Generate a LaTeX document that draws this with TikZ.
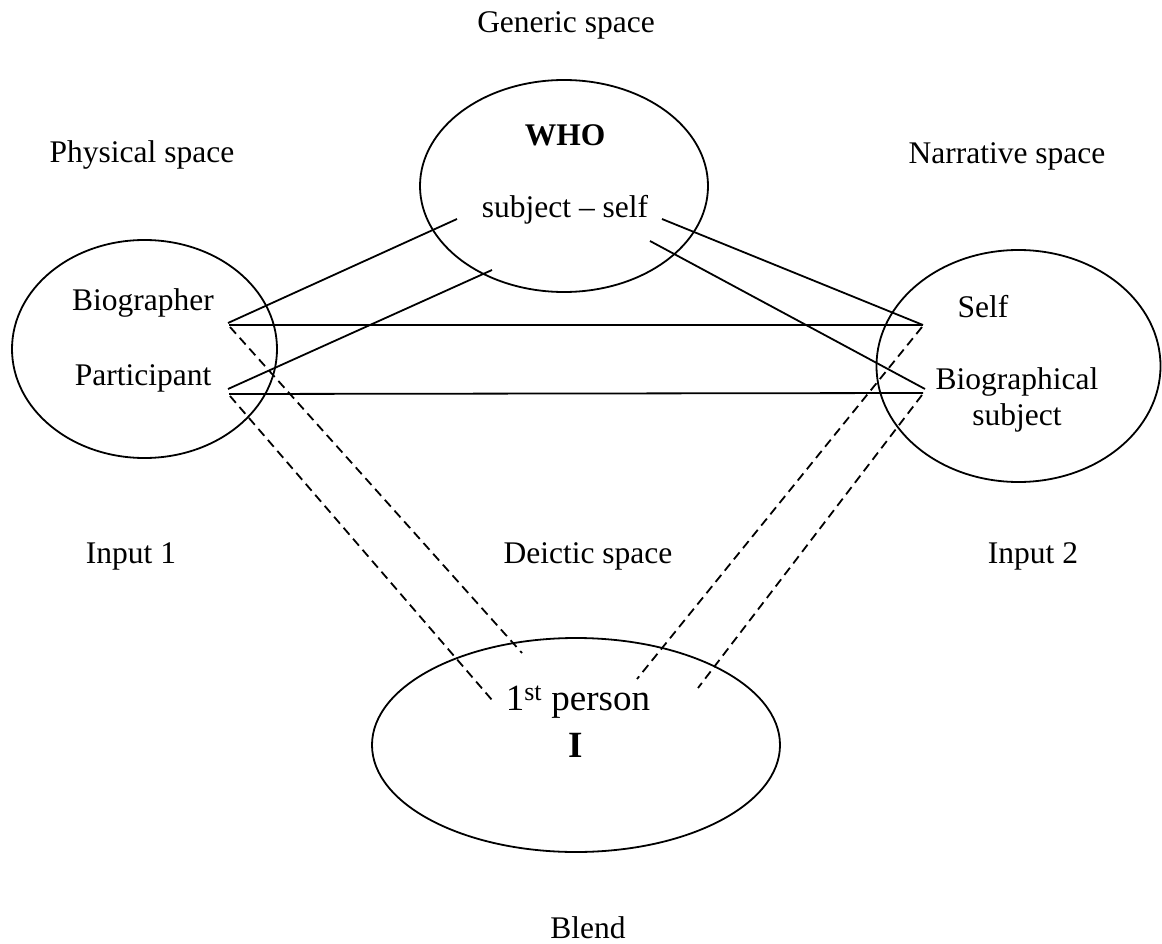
\documentclass[tikz,border=0pt]{standalone}
\usepackage{fontspec}
\setmainfont{Liberation Serif}
\usetikzlibrary{shapes.geometric}
\begin{document}
\begin{tikzpicture}[x=1pt,y=-1pt,
  space/.style={draw, ellipse, line width=1.8pt, inner sep=0pt},
  lbl/.style={anchor=base, inner sep=0pt, font=\fontsize{31.5}{38}\selectfont},
  biglbl/.style={anchor=base, inner sep=0pt, font=\fontsize{37}{44}\selectfont},
  link/.style={line width=1.8pt},
  dlink/.style={line width=1.8pt, dash pattern=on 9pt off 5.5pt}]
\useasboundingbox (0,0) rectangle (1162,944);

% the four mental spaces
\node[space, minimum width=288pt, minimum height=212pt] (generic) at (564,186) {};
\node[space, minimum width=265pt, minimum height=218pt] (input1) at (144.5,349) {};
\node[space, minimum width=284pt, minimum height=232pt] (input2) at (1018.5,366) {};
\node[space, minimum width=408pt, minimum height=214pt] (blend) at (576,745) {};

% space titles
\node[lbl] (tgeneric) at (566,33) {Generic space};
\node[lbl] (tphys) at (142,163) {Physical space};
\node[lbl] (tnarr) at (1007,164) {Narrative space};
\node[lbl] (tin1) at (131,563) {Input 1};
\node[lbl] (tdeic) at (588,563) {Deictic space};
\node[lbl] (tin2) at (1033,563) {Input 2};
\node[lbl] (tblend) at (588,938) {Blend};

% contents of the spaces
\node[lbl, font=\fontsize{31.5}{38}\selectfont\bfseries] (who) at (565,146) {WHO};
\node[lbl] (subjself) at (565,218) {subject -- self};
\node[lbl] (biographer) at (143,310) {Biographer};
\node[lbl] (participant) at (143,385) {Participant};
\node[lbl] (self) at (983,317) {Self};
\node[lbl] (biographical) at (1017,389) {Biographical};
\node[lbl] (bsubject) at (1017,425) {subject};
\node[biglbl] (firstperson) at (578,710) {1\textsuperscript{st} person};
\node[biglbl, font=\fontsize{37}{44}\selectfont\bfseries] (pronoun) at (576,757) {I};

% connector end points
\coordinate (bioA) at (228,323);
\coordinate (bioH) at (229,325);
\coordinate (bioD) at (230,327);
\coordinate (partA) at (228,389);
\coordinate (partH) at (229,394);
\coordinate (partD) at (230,396);
\coordinate (selfA) at (923,325);
\coordinate (selfD) at (922,327);
\coordinate (bsubA) at (925,389);
\coordinate (bsubH) at (923,393);
\coordinate (bsubD) at (922,395);
\coordinate (gsL1) at (457,219);
\coordinate (gsL2) at (492,270);
\coordinate (gsR1) at (662,219);
\coordinate (gsR2) at (650,241);
\coordinate (fpL1) at (522,653);
\coordinate (fpL2) at (492,700);
\coordinate (fpR1) at (637,679);
\coordinate (fpR2) at (698,688);

% cross-space mappings
\draw[link] (bioH) -- (selfA);
\draw[link] (partH) -- (bsubH);
% generic space links
\draw[link] (bioA) -- (gsL1);
\draw[link] (partA) -- (gsL2);
\draw[link] (gsR1) -- (selfA);
\draw[link] (gsR2) -- (bsubA);
% projections into the blend
\draw[dlink] (bioD) -- (fpL1);
\draw[dlink] (partD) -- (fpL2);
\draw[dlink] (selfD) -- (fpR1);
\draw[dlink] (bsubD) -- (fpR2);
\end{tikzpicture}
\end{document}
